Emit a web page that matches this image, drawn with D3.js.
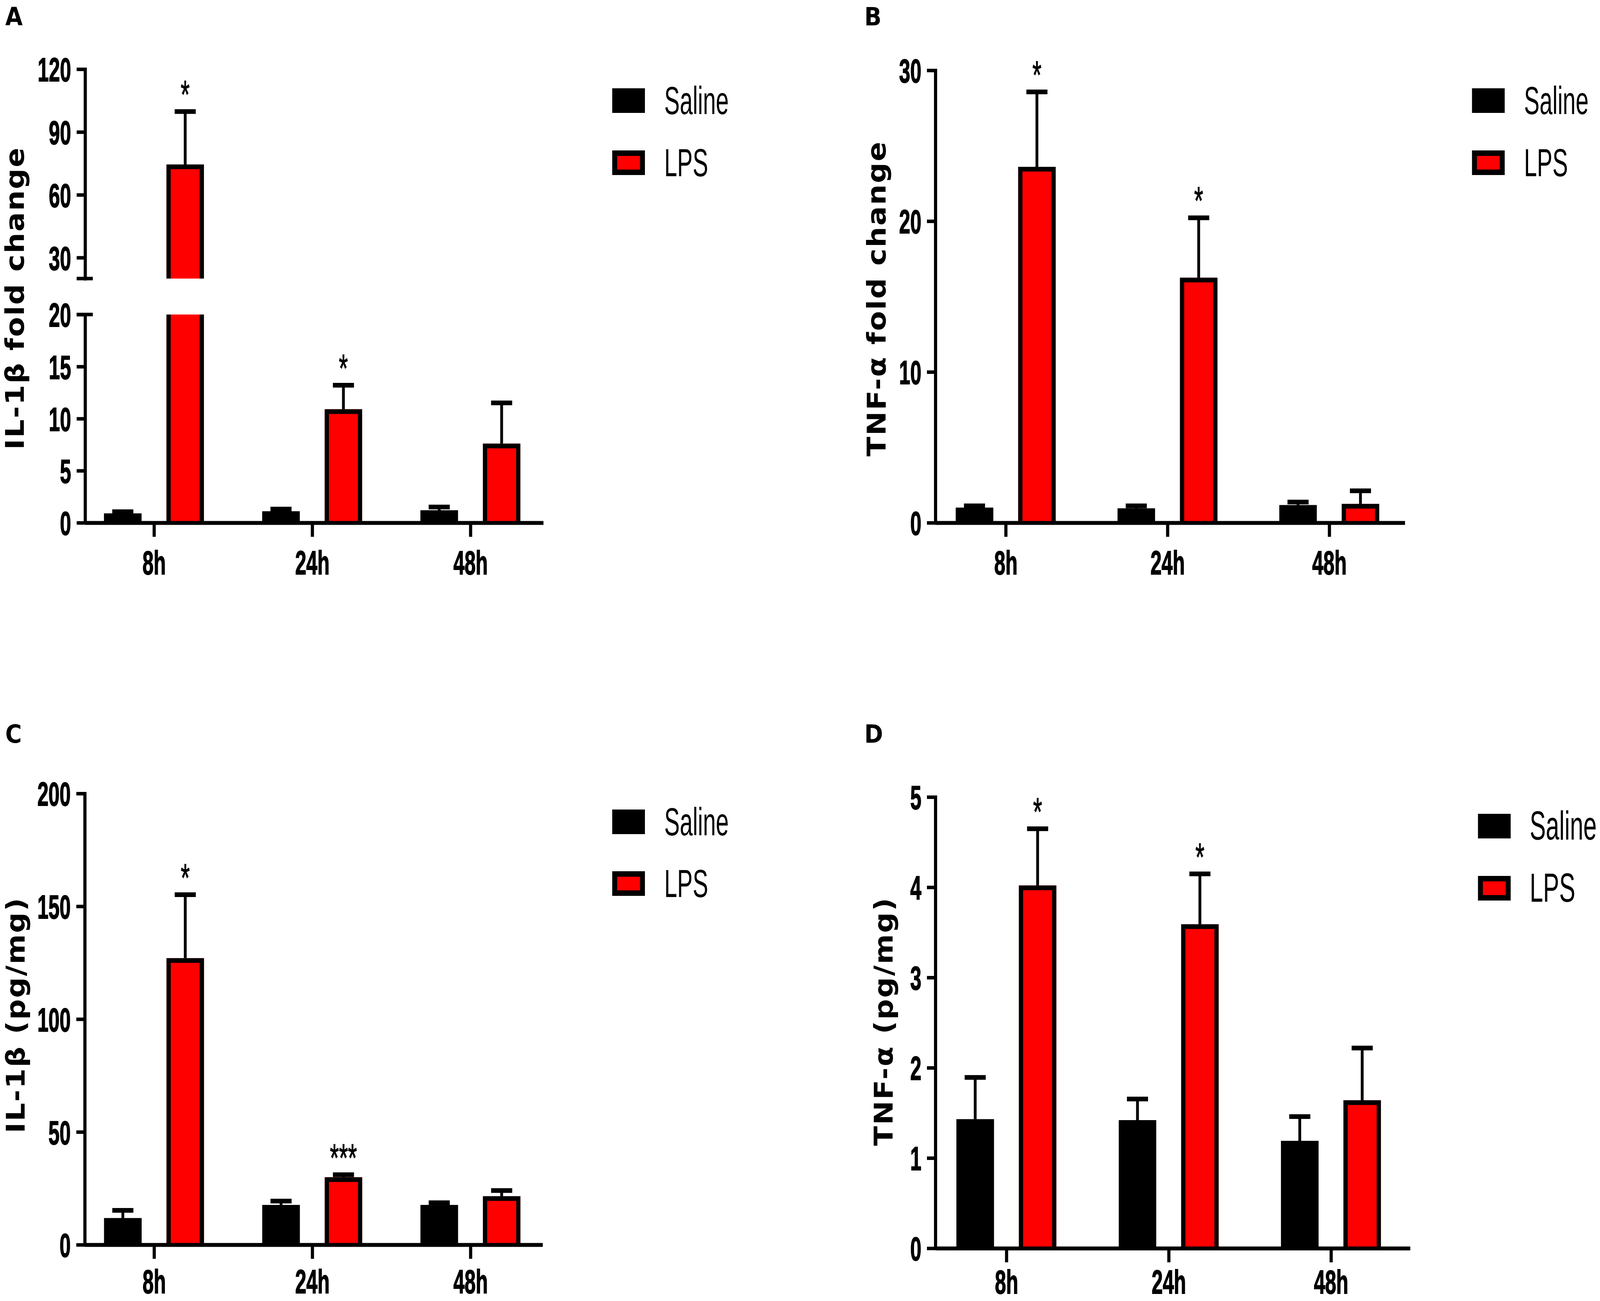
<!DOCTYPE html>
<html>
<head>
<meta charset="utf-8">
<script src="https://cdn.jsdelivr.net/npm/d3@7"></script>
<style>
  html, body { margin: 0; padding: 0; background: #fff; overflow: hidden; }
  svg { display: block; width: 100vw; height: 100vh; overflow: visible; }
</style>
</head>
<body>
<script>
// ---- data ----
const times = ["8h", "24h", "48h"];
const groups = ["Saline", "LPS"];
const groupColors = ["#000000", "#ff0000"];

// A: IL-1β mRNA fold change
const il1bFoldSaline = [0.9, 1.1, 1.2];
const il1bFoldSalineErr = [0.35, 0.4, 0.5];
const il1bFoldLps = [74.5, 10.9, 7.6];
const il1bFoldLpsErr = [26.2, 2.5, 4.1];
const il1bFoldStars = ["*", "*", ""];
const il1bFoldTicksLow = [0, 5, 10, 15, 20];
const il1bFoldTicksHigh = [30, 60, 90, 120];

// B: TNF-α mRNA fold change
const tnfFoldSaline = [1.0, 0.95, 1.17];
const tnfFoldSalineErr = [0.25, 0.3, 0.33];
const tnfFoldLps = [23.6, 16.25, 1.25];
const tnfFoldLpsErr = [5.1, 4.1, 1.0];
const tnfFoldStars = ["*", "*", ""];
const tnfFoldTicks = [0, 10, 20, 30];

// C: IL-1β protein
const il1bPgSaline = [11.8, 17.6, 17.6];
const il1bPgSalineErr = [4.3, 2.6, 1.9];
const il1bPgLps = [127, 29.9, 21.5];
const il1bPgLpsErr = [29, 2.0, 3.4];
const il1bPgStars = ["*", "***", ""];
const il1bPgTicks = [0, 50, 100, 150, 200];

// D: TNF-α protein
const tnfPgSaline = [1.43, 1.42, 1.19];
const tnfPgSalineErr = [0.485, 0.255, 0.29];
const tnfPgLps = [4.02, 3.59, 1.64];
const tnfPgLpsErr = [0.65, 0.58, 0.6];
const tnfPgStars = ["*", "*", ""];
const tnfPgTicks = [0, 1, 2, 3, 4, 5];

// ---- page ----
const W = 4550, H = 3330;
const SX = 0.66;            // source figure is squeezed horizontally
const AXIS_W = 9, BAR_W = 12;
const narrow = "'Liberation Sans', Arial, sans-serif";
const wide = "'DejaVu Sans', Verdana, sans-serif";

// fill the whole window, whatever its real size
const svg = d3.select("body").append("svg")
    .attr("viewBox", `0 0 ${W} ${H}`)
    .attr("preserveAspectRatio", "none");

const panels = [
  {
    letter: "A", letterX: 15, letterY: 65,
    title: "IL-1β fold change", titleX: 68, titleY: 763,
    saline: il1bFoldSaline, salineErr: il1bFoldSalineErr,
    lps: il1bFoldLps, lpsErr: il1bFoldLpsErr, stars: il1bFoldStars,
    segments: [
      { domain: [0, 20], range: [1338, 805], ticks: il1bFoldTicksLow },
      { domain: [20, 120], range: [713, 177], ticks: il1bFoldTicksHigh }
    ],
    axisX: 242, xEnd: 1545, pad: 0.448, align: 0.486, labelY: 132,
    legX: 1741, legY: [226, 385], legTextX: 1889, legFont: 100
  },
  {
    letter: "B", letterX: 2458, letterY: 65,
    title: "TNF-α fold change", titleX: 2518, titleY: 764,
    saline: tnfFoldSaline, salineErr: tnfFoldSalineErr,
    lps: tnfFoldLps, lpsErr: tnfFoldLpsErr, stars: tnfFoldStars,
    segments: [
      { domain: [0, 30], range: [1338, 180], ticks: tnfFoldTicks }
    ],
    axisX: 2660, xEnd: 3995, pad: 0.451, align: 0.482, labelY: 132,
    legX: 4186, legY: [226, 385], legTextX: 4334, legFont: 100
  },
  {
    letter: "C", letterX: 15, letterY: 1901,
    title: "IL-1β (pg/mg)", titleX: 70, titleY: 2598,
    saline: il1bPgSaline, salineErr: il1bPgSalineErr,
    lps: il1bPgLps, lpsErr: il1bPgLpsErr, stars: il1bPgStars,
    segments: [
      { domain: [0, 200], range: [3186, 2031], ticks: il1bPgTicks }
    ],
    axisX: 241, xEnd: 1543, pad: 0.447, align: 0.49, labelY: 124,
    legX: 1741, legY: [2072, 2230], legTextX: 1889, legFont: 100
  },
  {
    letter: "D", letterX: 2458, letterY: 1901,
    title: "TNF-α (pg/mg)", titleX: 2538, titleY: 2614,
    saline: tnfPgSaline, salineErr: tnfPgSalineErr,
    lps: tnfPgLps, lpsErr: tnfPgLpsErr, stars: tnfPgStars,
    segments: [
      { domain: [0, 5], range: [3195, 2040], ticks: tnfPgTicks }
    ],
    axisX: 2660, xEnd: 4010, pad: 0.4626, align: 0.473, labelY: 116,
    legX: 4203, legY: [2083, 2242], legTextX: 4350, legFont: 104
  }
];

function squeezedText(parent, x, y, txt) {
  return parent.append("text")
    .attr("transform", `translate(${x},${y}) scale(${SX},1)`)
    .text(txt);
}

function drawPanel(p) {
  const g = svg.append("g");

  const x = d3.scalePoint()
      .domain(times)
      .range([p.axisX, p.xEnd])
      .padding(p.pad)
      .align(p.align);

  const xg = d3.scaleBand()
      .domain(groups)
      .range([-142, 142])
      .paddingInner(0.4);

  p.segments.forEach(s => {
    s.scale = d3.scaleLinear().domain(s.domain).range(s.range);
  });
  const y0 = p.segments[0].range[0];
  const yOf = v => {
    const s = p.segments.find(s => v <= s.domain[1]) || p.segments[p.segments.length - 1];
    return s.scale(v);
  };

  // rows: one per bar
  const rows = [];
  times.forEach((t, i) => {
    rows.push({ t, grp: "Saline", color: groupColors[0], v: p.saline[i], e: p.salineErr[i] });
    rows.push({ t, grp: "LPS", color: groupColors[1], v: p.lps[i], e: p.lpsErr[i] });
  });

  // bars, split over axis segments when the axis is broken
  rows.forEach(r => {
    const x0 = x(r.t) + xg(r.grp);
    const x1 = x0 + xg.bandwidth();
    p.segments.forEach(s => {
      if (r.v <= s.domain[0]) return;
      const top = Math.min(r.v, s.domain[1]);
      const yb = s.scale(s.domain[0]);
      const yt = s.scale(top);
      const closed = r.v <= s.domain[1];
      g.append("rect")
        .attr("x", x0).attr("y", yt)
        .attr("width", x1 - x0).attr("height", yb - yt)
        .attr("fill", r.color);
      const h = BAR_W / 2;
      const path = `M${x0 + h},${yb} V${yt + (closed ? h : 0)} ` +
        (closed ? `H${x1 - h}` : `M${x1 - h},${yt}`) + ` V${yb}`;
      g.append("path")
        .attr("d", path)
        .attr("fill", "none")
        .attr("stroke", "#000")
        .attr("stroke-width", BAR_W)
        .attr("stroke-linejoin", "miter");
    });

    // error bar (upper only)
    const cx = (x0 + x1) / 2;
    const ye = yOf(r.v + r.e);
    g.append("line")
      .attr("x1", cx).attr("x2", cx)
      .attr("y1", yOf(r.v)).attr("y2", ye)
      .attr("stroke", "#000").attr("stroke-width", 8);
    g.append("line")
      .attr("x1", cx - 30).attr("x2", cx + 30)
      .attr("y1", ye + 5).attr("y2", ye + 5)
      .attr("stroke", "#000").attr("stroke-width", 12);
  });

  // significance stars
  times.forEach((t, i) => {
    if (!p.stars[i]) return;
    const cx = x(t) + xg("LPS") + xg.bandwidth() / 2;
    const ye = yOf(p.lps[i] + p.lpsErr[i]);
    squeezedText(g, cx, ye - 4, p.stars[i])
      .attr("text-anchor", "middle")
      .attr("font-family", narrow)
      .attr("font-size", 100)
      .attr("stroke", "#000")
      .attr("stroke-width", 1.5);
  });

  // y axis segments
  p.segments.forEach(s => {
    const ax = g.append("g")
      .attr("transform", `translate(${p.axisX},0)`)
      .call(d3.axisLeft(s.scale)
        .tickValues(s.ticks)
        .tickFormat(d3.format("d"))
        .tickSize(24)
        .tickSizeOuter(0));
    ax.select(".domain").attr("stroke-width", AXIS_W).attr("stroke-linecap", "square");
    ax.selectAll(".tick line").attr("stroke-width", AXIS_W);
    ax.selectAll(".tick text")
      .attr("x", -40 / SX)
      .attr("dy", "0.36em")
      .attr("transform", `scale(${SX},1)`)
      .attr("font-family", narrow)
      .attr("font-weight", "bold")
      .attr("font-size", 86)
      .attr("fill", "#000")
      .attr("stroke", "#000")
      .attr("stroke-width", 2);
  });

  // break marks
  if (p.segments.length > 1) {
    [p.segments[0].scale(p.segments[0].domain[1]), p.segments[1].scale(p.segments[1].domain[0])]
      .forEach(yy => {
        g.append("line")
          .attr("x1", p.axisX - 24).attr("x2", p.axisX + 22)
          .attr("y1", yy).attr("y2", yy)
          .attr("stroke", "#000").attr("stroke-width", AXIS_W);
      });
  }

  // x axis
  const xa = g.append("g")
    .attr("transform", `translate(0,${y0})`)
    .call(d3.axisBottom(x).tickSize(36).tickSizeOuter(0));
  xa.select(".domain").attr("stroke-width", 10);
  xa.selectAll(".tick line").attr("stroke-width", AXIS_W);
  xa.selectAll(".tick text")
    .attr("y", p.labelY).attr("dy", "0")
    .attr("transform", `scale(${SX},1)`)
    .attr("font-family", narrow)
    .attr("font-weight", "bold")
    .attr("font-size", 86)
    .attr("fill", "#000")
    .attr("stroke", "#000")
    .attr("stroke-width", 2);

  // y title
  g.append("text")
    .attr("transform", `translate(${p.titleX},${p.titleY}) rotate(-90)`)
    .attr("text-anchor", "middle")
    .attr("font-family", wide)
    .attr("font-weight", "bold")
    .attr("font-size", 74)
    .attr("letter-spacing", 3)
    .text(p.title);

  // panel letter
  g.append("text")
    .attr("x", p.letterX).attr("y", p.letterY)
    .attr("font-family", wide)
    .attr("font-weight", "bold")
    .attr("font-size", 64)
    .text(p.letter);

  // legend
  groups.forEach((grp, j) => {
    const ly = p.legY[j];
    g.append("rect")
      .attr("x", p.legX + 7).attr("y", ly + 7)
      .attr("width", 93 - 14).attr("height", 63 - 14)
      .attr("fill", groupColors[j])
      .attr("stroke", "#000")
      .attr("stroke-width", 14);
    squeezedText(g, p.legTextX, ly + 66, grp)
      .attr("font-family", narrow)
      .attr("font-size", p.legFont);
  });
}

panels.forEach(drawPanel);
</script>
</body>
</html>
